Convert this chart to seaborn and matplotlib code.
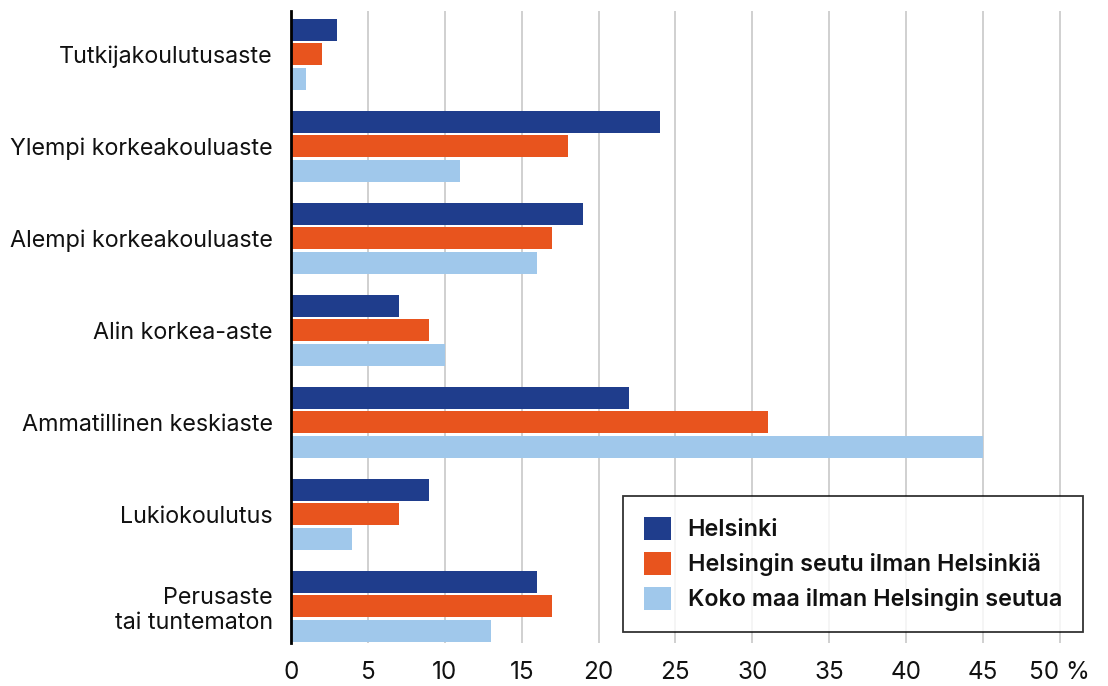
import pandas as pd
import matplotlib
matplotlib.use('Agg')
import matplotlib.pyplot as plt
import seaborn as sns

# data
categories = ['Tutkijakoulutusaste', 'Ylempi korkeakouluaste', 'Alempi korkeakouluaste',
              'Alin korkea-aste', 'Ammatillinen keskiaste', 'Lukiokoulutus',
              'Perusaste\ntai tuntematon']
series = ['Helsinki', 'Helsingin seutu ilman Helsinkiä', 'Koko maa ilman Helsingin seutua']
helsinki = [3, 24, 19, 7, 22, 9, 16]
seutu = [2, 18, 17, 9, 31, 7, 17]
koko_maa = [1, 11, 16, 10, 45, 4, 13]
x_ticks = [0, 5, 10, 15, 20, 25, 30, 35, 40, 45, 50]
x_labels = ['0', '5', '10', '15', '20', '25', '30', '35', '40', '45', '50 %']

colors = ['#1f3d8c', '#e8541e', '#a0c8eb']

rows = []
for name, vals in zip(series, [helsinki, seutu, koko_maa]):
    for cat, v in zip(categories, vals):
        rows.append({'kategoria': cat, 'sarja': name, 'arvo': v})
df = pd.DataFrame(rows)

sns.set_style('white')
plt.rcParams['font.family'] = ['Inter', 'DejaVu Sans']
plt.rcParams['text.color'] = '#111111'

fig = plt.figure(figsize=(11.08, 6.86), dpi=100)
ax = fig.add_axes([0.2626, 0.0627, 0.9774 - 0.2626, 0.984 - 0.0627])

sns.barplot(data=df, y='kategoria', x='arvo', hue='sarja', order=categories,
            hue_order=series, palette=colors, orient='h', width=0.8, gap=0.1,
            saturation=1, linewidth=0, ax=ax, zorder=3)

ax.set_xlim(0, 51.5)
ax.set_ylim(6.4, -0.47)
ax.set_xticks(x_ticks)
ax.set_xticklabels(x_labels, fontsize=17.5, color='#111111')
ax.tick_params(axis='x', length=6, color='#c8c8c8', width=1.2, pad=7)
ax.tick_params(axis='y', length=0, pad=13, labelsize=16.8, labelcolor='#111111')
for lab in ax.get_yticklabels():
    lab.set_multialignment('right')
ax.xaxis.get_major_ticks()[0].tick1line.set_color('black')
ax.xaxis.get_major_ticks()[0].tick1line.set_markeredgewidth(2)

ax.grid(axis='x', color='#c8c8c8', linewidth=1.2, zorder=0)
ax.set_axisbelow(True)
for s in ['top', 'right', 'bottom']:
    ax.spines[s].set_visible(False)
ax.spines['left'].set_color('black')
ax.spines['left'].set_linewidth(2)
ax.spines['left'].set_zorder(5)
ax.set_xlabel('')
ax.set_ylabel('')

leg = ax.legend(loc='lower right', bbox_to_anchor=(1.0, 0.017), frameon=True,
                fancybox=False, edgecolor='black',
                prop={'size': 16.8, 'weight': 'semibold'},
                handlelength=1.15, handleheight=1.15, handletextpad=0.7,
                labelspacing=0.45, borderpad=0.9, borderaxespad=0)
leg.get_frame().set_linewidth(1.3)
for t in leg.get_texts():
    t.set_color('#111111')

fig.savefig('out.png', dpi=100)
